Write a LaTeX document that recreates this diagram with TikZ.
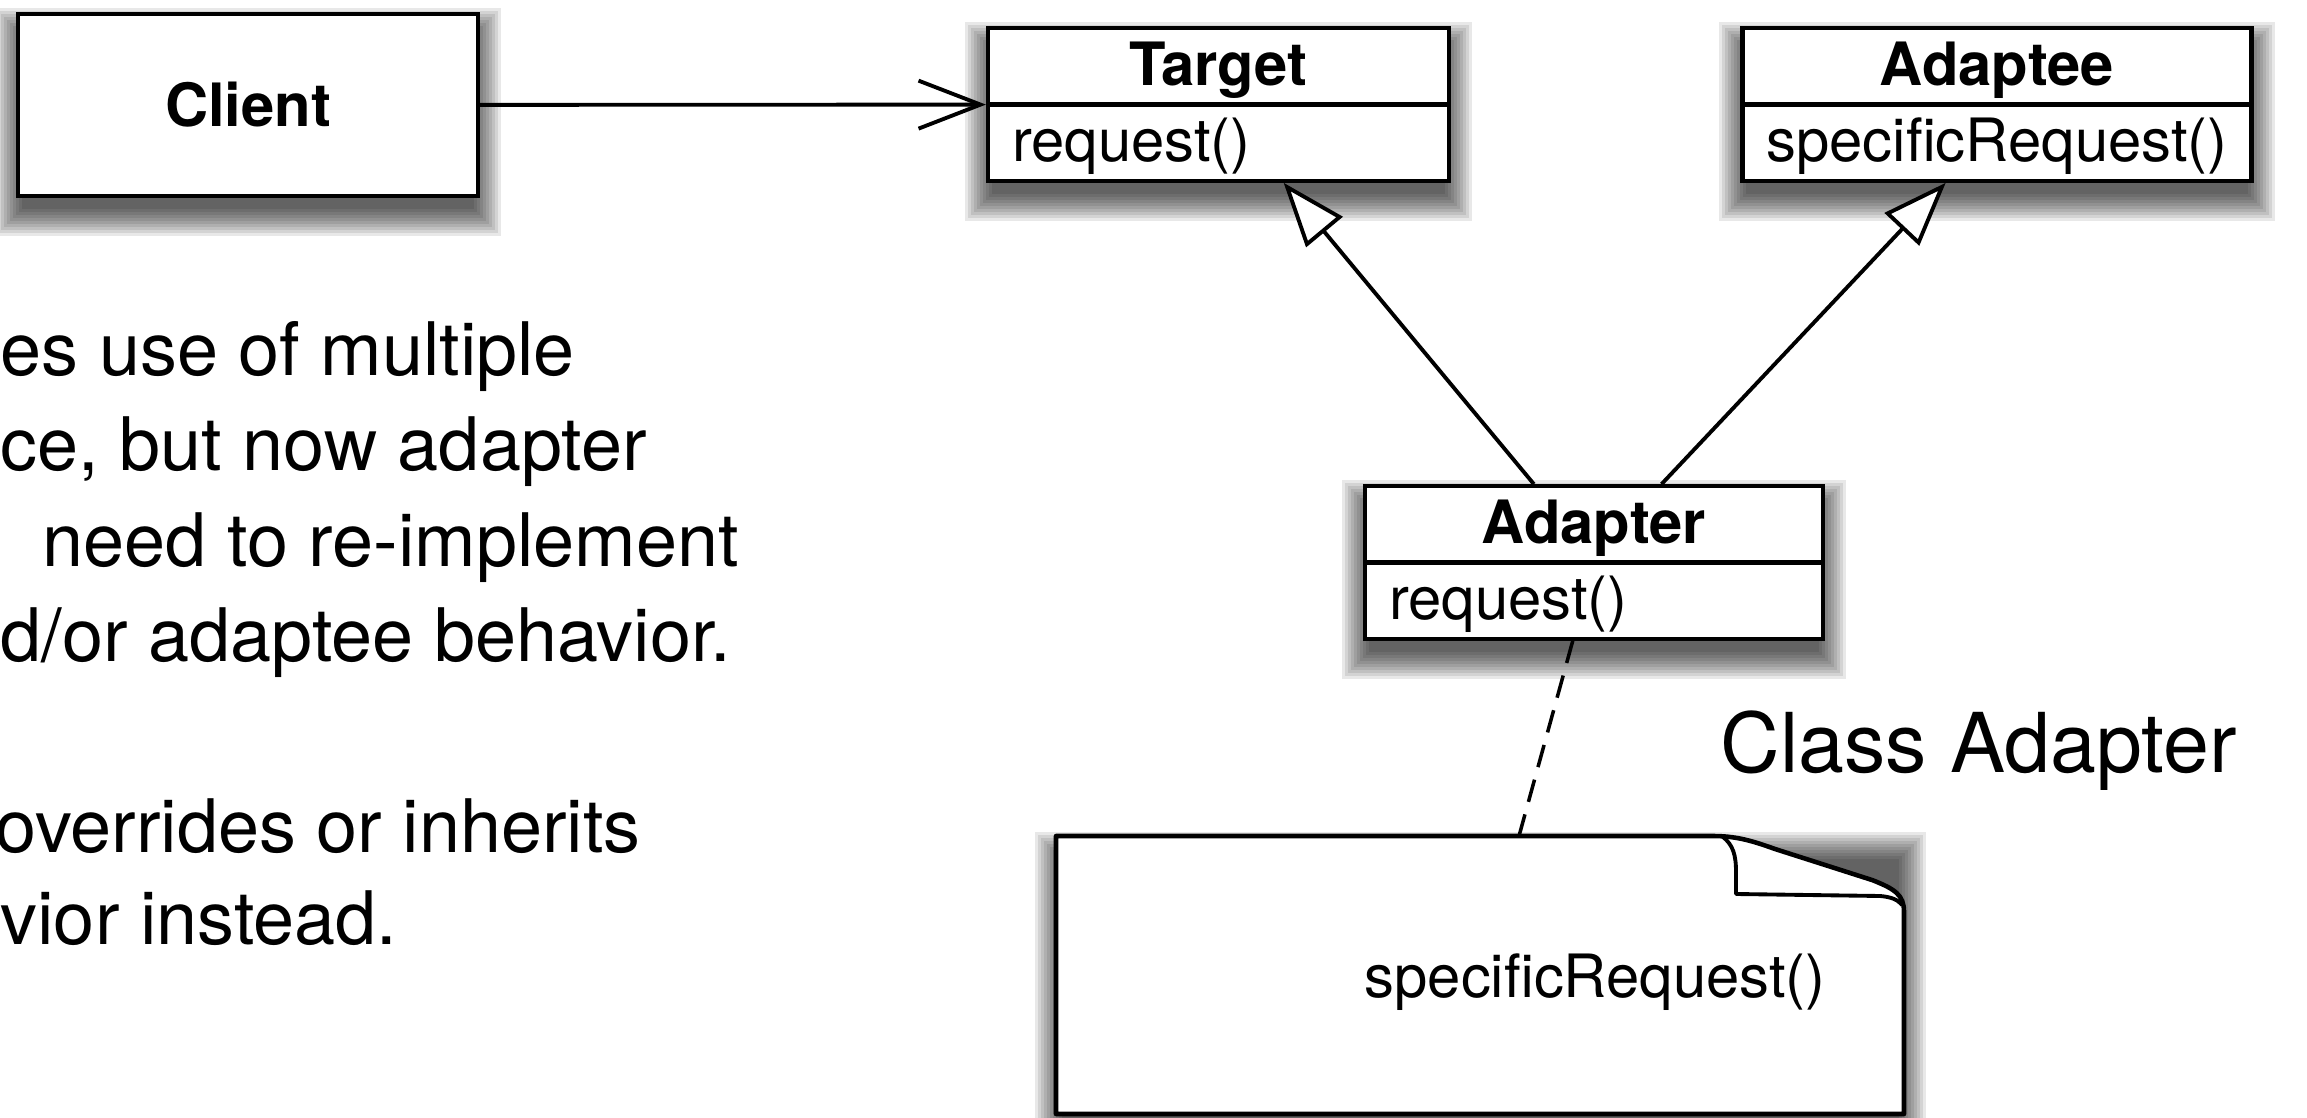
\documentclass[tikz,border=0pt]{standalone}
\usepackage{fontspec}
\setmainfont{TeX Gyre Heros}
\usetikzlibrary{arrows.meta,shapes.multipart,calc,backgrounds}

\newcommand{\umlfont}{\fontsize{17}{20}\selectfont}
\newcommand{\umlstrut}{\rule[-0.17cm]{0pt}{0.72cm}}

\begin{document}
\begin{tikzpicture}[
		ClassStyle/.style = {rectangle split, rectangle split parts=2,
			rectangle split part align={center,left}, draw, line width=1.2pt,
			fill=white, inner ysep=0pt, inner xsep=0.24cm, font=\umlfont},
		ClientStyle/.style = {draw, line width=1.2pt, fill=white,
			minimum width=4.6cm, minimum height=1.82cm, font=\umlfont\bfseries},
		TextStyle/.style = {anchor=base west, inner sep=0pt,
			font=\fontsize{21}{25}\selectfont},
		UseEdge/.style = {line width=1.1pt, -{Straight Barb[length=0.62cm,width=0.48cm]}},
		InheritEdge/.style = {line width=1.1pt, -{Triangle[length=0.64cm,width=0.47cm,fill=white]}},
		NoteEdge/.style = {line width=1pt, dash pattern=on 0.23cm off 0.13cm}
	]
	\useasboundingbox (0,0) rectangle (23.07,11.17);
	% classes
	\node[ClientStyle] (client) at (2.48,10.12) {Client};
	\node[ClassStyle, minimum width=4.61cm] (target) at (12.185,10.125)
		{\umlstrut\textbf{Target}\nodepart{two}\umlstrut request()};
	\node[ClassStyle, minimum width=5.08cm] (adaptee) at (19.97,10.125)
		{\umlstrut\textbf{Adaptee}\nodepart{two}\umlstrut specificRequest()};
	\node[ClassStyle, minimum width=4.58cm] (adapter) at (15.94,5.545)
		{\umlstrut\textbf{Adapter}\nodepart{two}\umlstrut request()};
	% note
	\node[minimum width=8.48cm, minimum height=3.5cm, anchor=north west, inner sep=0pt] (note) at (10.56,2.81) {};
	\draw[line width=1.3pt, fill=white, line join=round]
		(10.56,0.03) -- (10.56,2.81) -- (17.12,2.81)
		.. controls (17.35,2.81) and (17.5,2.77) .. (17.75,2.68)
		-- (18.72,2.37) .. controls (18.95,2.28) and (19.04,2.22) .. (19.04,2.05)
		-- (19.04,0.03) -- cycle;
	\draw[line width=1.1pt, line join=round]
		(17.23,2.80) .. controls (17.33,2.72) and (17.36,2.62) .. (17.36,2.45)
		-- (17.36,2.23) -- (18.80,2.21) .. controls (18.92,2.20) and (18.98,2.17) .. (19.02,2.12);
	\coordinate (notetop) at (15.19,2.81);
	\node[anchor=base west, inner sep=0pt, font=\umlfont] (notetext) at (13.64,1.20) {specificRequest()};
	% shadows
	\begin{scope}[on background layer]
		\foreach \n in {client,target,adaptee,adapter,note}{
			\foreach \i in {1,...,10}{
				\fill[black, opacity=0.09]
					([xshift=-\i*0.03cm+0.09cm, yshift=-0.17cm+\i*0.03cm-0.09cm]\n.north west) rectangle
					([xshift=\i*0.03cm-0.09cm, yshift=-0.17cm-\i*0.03cm+0.09cm]\n.south east);
			}
		}
	\end{scope}
	% edges
	\draw[UseEdge] (client) -- (target);
	\draw[InheritEdge] ($(adapter.north west)!0.37!(adapter.north east)$)
		-- ($(target.south west)!0.64!(target.south east)$);
	\draw[InheritEdge] ($(adapter.north west)!0.646!(adapter.north east)$)
		-- ($(adaptee.south west)!0.40!(adaptee.south east)$);
	\draw[NoteEdge] ($(adapter.south west)!0.454!(adapter.south east)$) -- (notetop);
	% texts
	\node[TextStyle] (txtA) at (0,7.41) {es use of multiple};
	\node[TextStyle] (txtB) at (0,6.46) {ce, but now adapter};
	\node[TextStyle] (txtC) at (0.42,5.50) {need to re-implement};
	\node[TextStyle] (txtD) at (0,4.55) {d/or adaptee behavior.};
	\node[TextStyle] (txtE) at (-0.05,2.64) {overrides or inherits};
	\node[TextStyle] (txtF) at (0,1.73) {vior instead.};
	\node[anchor=base west, inner sep=0pt, font=\fontsize{23.5}{28}\selectfont] (caption) at (17.20,3.44) {Class Adapter};
\end{tikzpicture}
\end{document}
